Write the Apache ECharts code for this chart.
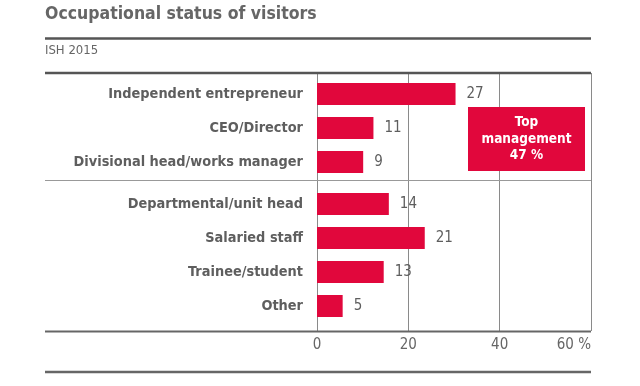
<!DOCTYPE html>
<html>
<head>
<meta charset="utf-8">
<script src="https://cdn.jsdelivr.net/npm/echarts@6/dist/echarts.min.js"></script>
<style>html,body{margin:0;padding:0;background:#fff;}#c{width:640px;height:386px;}</style>
</head>
<body>
<div id="c"></div>
<script>
var topCategories = ['Independent entrepreneur', 'CEO/Director', 'Divisional head/works manager'];
var topValues = [27, 11, 9];
var bottomCategories = ['Departmental/unit head', 'Salaried staff', 'Trainee/student', 'Other'];
var bottomValues = [14, 21, 13, 5];
var axisTicks = [0, 20, 40, 60];
var titleText = 'Occupational status of visitors';
var subtitleText = 'ISH 2015';
var boxLabel = 'Top\nmanagement';

var FONT = "'Liberation Sans Narrow', 'DejaVu Sans Condensed', 'Arial Narrow', sans-serif";
var RED = '#e1073c';
var GREY = '#5e5e5e';
var topSum = topValues.reduce(function (a, b) { return a + b; }, 0);

var L = 317, R = 49; // plot left / right margin
var barMax = 53.4;

function barSeries(xi, yi, data) {
  return {
    type: 'bar', xAxisIndex: xi, yAxisIndex: yi, data: data, barWidth: 22,
    itemStyle: { color: RED },
    label: { show: true, position: 'right', distance: 11, color: GREY, fontSize: 15, fontFamily: FONT },
    silent: true
  };
}
function catAxis(gi, cats) {
  return {
    type: 'category', gridIndex: gi, data: cats, inverse: true,
    axisLine: { show: false }, axisTick: { show: false }, splitLine: { show: false },
    axisLabel: { margin: 14, color: GREY, fontSize: 14.4, fontWeight: 'bold', fontFamily: FONT }
  };
}
function hiddenX(gi) {
  return { type: 'value', gridIndex: gi, min: 0, max: barMax, show: false };
}

function hline(y, style) {
  return { type: 'line', shape: { x1: 45, y1: y, x2: 591, y2: y }, style: style, silent: true, z: 10 };
}

var chart = echarts.init(document.getElementById('c'), null, { renderer: 'canvas' });
chart.setOption({
  animation: false,
  backgroundColor: '#fff',
  title: [
    { text: titleText, left: 45, top: 5, padding: 0, textStyle: { fontFamily: FONT, fontSize: 17.5, fontWeight: 'bold', color: '#666' } },
    { text: subtitleText, left: 45, top: 44, padding: 0, textStyle: { fontFamily: FONT, fontSize: 13, fontWeight: 'normal', color: '#666' } }
  ],
  grid: [
    { left: L, right: R, top: 73, bottom: 55 },
    { left: L, right: R, top: 77, height: 102 },
    { left: L, right: R, top: 187, height: 136 }
  ],
  xAxis: [
    {
      type: 'value', gridIndex: 0, min: axisTicks[0], max: axisTicks[axisTicks.length - 1],
      interval: axisTicks[1] - axisTicks[0],
      axisLine: { show: false }, axisTick: { show: false },
      splitLine: { show: true, lineStyle: { color: '#8a8a8a', width: 1 } },
      axisLabel: {
        margin: 7, color: '#666', fontSize: 15, fontFamily: FONT,
        alignMaxLabel: 'right',
        formatter: function (v) { return v === axisTicks[axisTicks.length - 1] ? v + ' %' : String(v); }
      }
    },
    hiddenX(1),
    hiddenX(2)
  ],
  yAxis: [
    { type: 'value', gridIndex: 0, show: false, min: 0, max: 1 },
    catAxis(1, topCategories),
    catAxis(2, bottomCategories)
  ],
  series: [
    barSeries(1, 1, topValues),
    barSeries(2, 2, bottomValues)
  ],
  graphic: [
    hline(38.5, { stroke: '#555', lineWidth: 2.5 }),
    hline(73, { stroke: '#555', lineWidth: 2.5 }),
    hline(180.5, { stroke: '#999', lineWidth: 1 }),
    hline(331.5, { stroke: '#666', lineWidth: 2 }),
    hline(372, { stroke: '#666', lineWidth: 2.5 }),
    {
      type: 'rect', shape: { x: 468, y: 107, width: 117, height: 64 },
      style: { fill: RED }, z: 20, silent: true
    },
    {
      type: 'text', x: 526.5, y: 139, z: 21, silent: true,
      style: {
        text: boxLabel + '\n' + topSum + ' %', fill: '#fff', font: 'bold 13.5px ' + FONT,
        align: 'center', verticalAlign: 'middle', lineHeight: 16.5
      }
    }
  ]
});
</script>
</body>
</html>
